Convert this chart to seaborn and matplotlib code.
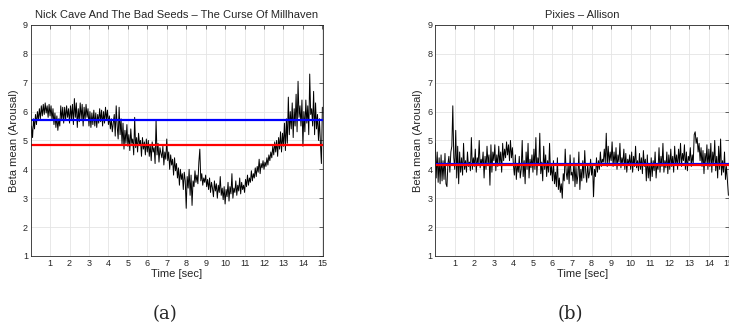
import numpy as np
import pandas as pd
import matplotlib
matplotlib.use("Agg")
import matplotlib.pyplot as plt
import seaborn as sns

# values, one row per second, 0.05 s steps
arousal_a = [
    4.95, 5.5, 5.1, 5.75, 5.4, 5.9, 5.55, 6.0, 5.7, 6.1, 5.75, 6.2, 5.85, 6.25, 5.9, 6.3, 5.95, 6.2, 5.8, 6.25,
    5.85, 6.2, 5.7, 6.1, 5.55, 5.95, 5.45, 5.85, 5.35, 5.75, 5.5, 6.2, 5.7, 6.15, 5.6, 6.15, 5.7, 6.2, 5.8, 6.1,
    5.6, 6.2, 5.75, 6.25, 5.55, 6.45, 5.8, 6.3, 5.45, 6.1, 5.65, 6.3, 5.75, 6.25, 5.5, 6.15, 5.7, 6.25, 5.8, 6.1,
    5.5, 6.0, 5.45, 5.95, 5.55, 6.05, 5.5, 5.95, 5.45, 5.9, 5.6, 6.1, 5.65, 6.05, 5.5, 6.0, 5.6, 6.15, 5.7, 6.05,
    5.55, 5.85, 5.4, 5.75, 5.3, 5.6, 5.9, 5.15, 6.2, 5.5, 5.05, 6.15, 5.2, 5.75, 4.85, 5.6, 4.7, 5.35, 4.9, 5.55,
    4.8, 5.2, 4.65, 5.4, 4.9, 5.05, 4.5, 5.8, 4.75, 5.1, 4.6, 5.25, 4.85, 5.0, 4.45, 5.1, 4.7, 4.95, 4.5, 5.05,
    4.6, 5.0, 4.45, 4.85, 4.3, 4.95, 4.6, 4.75, 4.2, 5.7, 4.5, 4.9, 4.25, 4.75, 4.55, 4.4, 4.8, 4.15, 4.6, 4.35,
    5.05, 4.3, 4.6, 4.0, 4.5, 4.15, 4.35, 3.8, 4.4, 3.95, 4.2, 3.7, 4.05, 3.45, 4.0, 3.65, 3.85, 3.3, 3.9, 3.6,
    2.65, 3.75, 3.35, 4.0, 3.1, 3.8, 2.75, 3.6, 3.4, 3.95, 3.55, 3.8, 3.5, 4.25, 4.7, 3.6, 3.85, 3.45, 3.7, 3.55,
    3.8, 3.4, 3.65, 3.3, 3.7, 3.2, 3.55, 3.35, 3.05, 3.6, 3.25, 3.5, 3.0, 3.45, 3.2, 3.75, 3.1, 3.35, 2.95, 3.4,
    2.8, 3.3, 3.05, 3.55, 2.9, 3.4, 3.15, 3.85, 3.0, 3.35, 3.2, 3.6, 3.1, 3.45, 3.25, 3.7, 3.15, 3.55, 3.3, 3.45,
    3.2, 3.65, 3.4, 3.8, 3.45, 3.7, 3.55, 3.95, 3.6, 3.85, 3.7, 4.05, 3.75, 4.1, 3.9, 4.35, 3.85, 4.2, 4.05, 4.3,
    4.0, 4.25, 4.1, 4.4, 4.15, 4.5, 4.3, 4.6, 4.4, 4.8, 4.5, 4.95, 4.6, 5.0, 4.45, 5.1, 4.7, 5.3, 4.6, 5.25,
    4.8, 5.6, 4.65, 5.75, 4.9, 6.5, 5.2, 6.0, 5.4, 6.3, 5.1, 6.1, 5.5, 6.6, 5.3, 7.05, 5.8, 6.2, 5.5, 6.4,
    4.8, 6.0, 5.3, 6.4, 5.6, 6.2, 5.2, 7.3, 5.9, 6.1, 5.5, 6.7, 5.2, 6.3, 5.4, 5.9, 5.0, 5.75, 4.9, 4.2,
    6.15,
]
arousal_b = [
    4.9, 3.7, 4.6, 3.55, 4.4, 3.5, 4.5, 3.6, 4.3, 3.65, 4.55, 3.5, 3.4, 4.2, 4.45, 3.9, 4.6, 4.8, 6.2, 4.4,
    4.0, 5.35, 3.7, 4.8, 3.5, 4.6, 3.9, 4.4, 3.8, 4.9, 4.0, 4.3, 3.9, 4.6, 4.1, 4.25, 3.95, 5.1, 4.0, 4.4,
    4.1, 4.7, 3.9, 4.4, 4.2, 5.0, 4.05, 4.35, 4.15, 4.6, 3.7, 4.45, 4.0, 4.8, 4.2, 4.5, 3.45, 4.85, 3.9, 4.6,
    4.3, 4.85, 3.95, 4.5, 4.1, 4.8, 4.2, 4.6, 3.9, 4.9, 4.3, 4.7, 4.4, 4.95, 4.5, 4.85, 4.3, 5.0, 4.4, 4.75,
    4.15, 3.8, 4.5, 3.65, 4.2, 3.9, 4.45, 3.7, 4.0, 5.0, 3.75, 4.3, 3.5, 4.6, 4.0, 4.9, 3.7, 4.35, 4.05, 4.5,
    3.9, 4.7, 4.0, 5.1, 3.8, 4.4, 4.15, 5.25, 3.85, 4.25, 3.6, 4.8, 4.0, 4.5, 3.75, 4.3, 3.9, 4.9, 3.8, 4.1,
    3.6, 4.3, 3.5, 3.9, 3.4, 4.4, 3.3, 3.7, 3.2, 3.5, 3.0, 3.85, 3.6, 4.7, 3.9, 3.65, 4.2, 3.5, 4.5, 3.8,
    3.9, 3.6, 4.4, 3.4, 4.1, 3.5, 3.8, 4.6, 3.3, 4.0, 3.6, 4.3, 3.7, 4.65, 3.9, 3.55, 4.2, 3.7, 3.9, 4.35,
    3.8, 4.2, 3.05, 4.0, 3.75, 4.4, 3.9, 4.3, 4.0, 4.6, 4.1, 4.35, 4.25, 4.7, 4.2, 5.25, 4.1, 4.8, 4.2, 4.6,
    4.3, 4.95, 4.1, 4.6, 4.15, 4.75, 4.0, 4.5, 4.25, 4.9, 4.05, 4.4, 4.2, 4.7, 4.0, 4.55, 3.9, 4.35, 4.15, 4.5,
    4.0, 4.6, 3.9, 4.45, 4.1, 4.8, 4.05, 4.3, 3.95, 4.55, 4.0, 4.4, 3.85, 4.65, 4.1, 4.35, 3.6, 4.5, 3.7, 4.2,
    3.6, 4.4, 3.75, 4.3, 3.95, 4.6, 3.7, 4.2, 4.0, 4.75, 3.9, 4.45, 4.1, 4.9, 3.9, 4.3, 4.05, 4.6, 3.85, 4.5,
    4.0, 4.7, 4.1, 4.45, 3.9, 4.8, 4.15, 4.5, 4.0, 4.7, 4.2, 4.9, 4.1, 4.55, 4.3, 4.85, 4.0, 4.6, 3.95, 4.45,
    4.3, 4.75, 4.1, 4.5, 4.2, 5.2, 5.3, 4.9, 5.1, 4.6, 4.9, 4.3, 4.75, 4.1, 4.65, 3.85, 4.55, 4.2, 4.85, 4.0,
    4.7, 4.1, 4.9, 3.9, 4.6, 4.2, 5.0, 3.95, 4.45, 3.7, 4.8, 4.0, 5.05, 3.8, 4.3, 3.9, 4.6, 3.65, 4.1, 3.6,
    3.1,
]
time_step = 0.05

blue_level = [5.7, 4.18]
red_level = [4.83, 4.15]
titles = ["Nick Cave And The Bad Seeds \u2013 The Curse Of Millhaven", "Pixies \u2013 Allison"]
panel_labels = ["(a)", "(b)"]
xticks = list(range(1, 16))
yticks = list(range(1, 10))

sns.set_style("white")
plt.rcParams['font.family'] = ['Liberation Sans', 'DejaVu Sans']

fig = plt.figure(figsize=(7.29, 3.24), dpi=100)
ax_a = fig.add_axes([0.042, 0.210, 0.401, 0.713])
ax_b = fig.add_axes([0.597, 0.210, 0.403, 0.713])

for i, (ax, vals) in enumerate(zip([ax_a, ax_b], [arousal_a, arousal_b])):
    df = pd.DataFrame({'t': np.arange(len(vals)) * time_step, 'v': vals})
    sns.lineplot(data=df, x='t', y='v', ax=ax, color='black', lw=0.7,
                 estimator=None, sort=False)
    ax.axhline(blue_level[i], color='#0000ff', lw=1.6)
    ax.axhline(red_level[i], color='#ff0000', lw=1.6)

    ax.set_xlim(0, 15.03)
    ax.set_ylim(1, 9)
    ax.set_xticks(xticks)
    ax.set_yticks(yticks)
    ax.grid(True, color='#e4e4e4', lw=0.6)
    ax.set_axisbelow(True)
    ax.tick_params(direction='in', length=3, width=0.5, labelsize=6.5,
                   colors='#262626', top=True, right=True, pad=2)
    for sp in ax.spines.values():
        sp.set_color('#262626')
        sp.set_linewidth(0.6)
    ax.set_title(titles[i], fontsize=8, pad=5)
    ax.set_xlabel('Time [sec]', fontsize=8, labelpad=1)
    ax.set_ylabel('Beta mean (Arousal)', fontsize=8, labelpad=3)

fig.text(0.226, 0.015, panel_labels[0], fontsize=13, family=['DejaVu Serif'], ha='center')
fig.text(0.783, 0.015, panel_labels[1], fontsize=13, family=['DejaVu Serif'], ha='center')

fig.savefig('out.png', dpi=100)
